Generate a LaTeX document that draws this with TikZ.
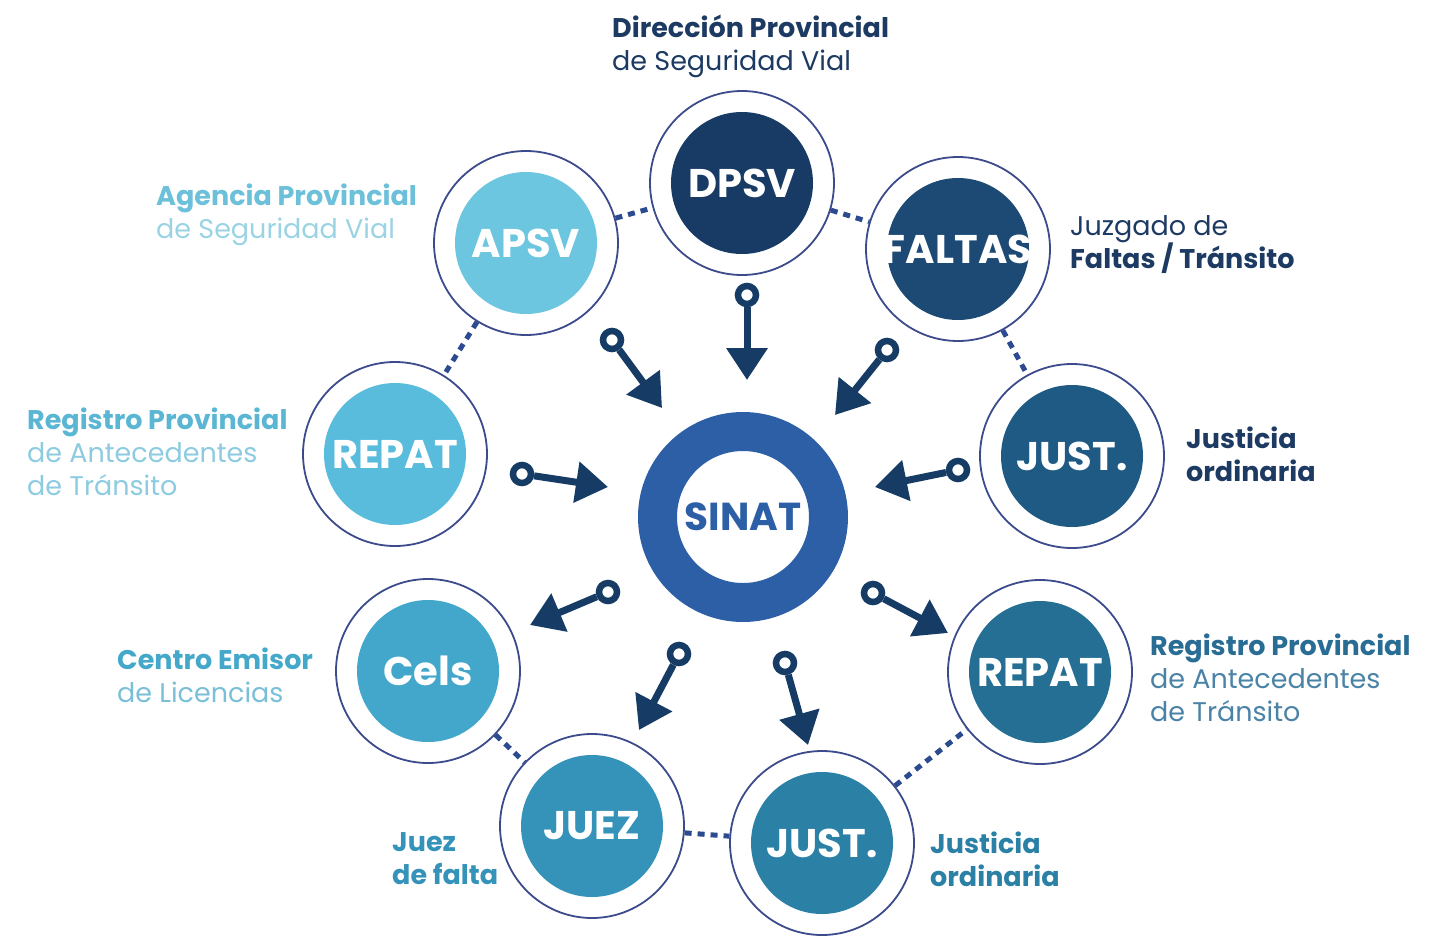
\documentclass[tikz,border=0pt]{standalone}
\usepackage{fontspec}
\setmainfont{Poppins}
\usetikzlibrary{arrows.meta}

% fills, darkest at the top, lightest at the left
\definecolor{dpsvc}{HTML}{173B64}
\definecolor{faltasc}{HTML}{1C4A75}
\definecolor{justac}{HTML}{1F5A85}
\definecolor{repatbc}{HTML}{256F95}
\definecolor{justbc}{HTML}{2B80A6}
\definecolor{juezc}{HTML}{3593BA}
\definecolor{celsc}{HTML}{42A7CA}
\definecolor{repatac}{HTML}{5ABCDC}
\definecolor{apsvc}{HTML}{6DC6E0}
\definecolor{sinatc}{HTML}{2C5FA6}
\definecolor{arrowc}{HTML}{163C66}
\definecolor{ringc}{HTML}{3C4B8C}
\definecolor{dotc}{HTML}{2B4A8F}
% text colours
\definecolor{navytxt}{HTML}{1D3A63}
\definecolor{repattxt}{HTML}{2A6D94}
\definecolor{repatlite}{HTML}{4A83A6}
\definecolor{celstxt}{HTML}{43A8C9}
\definecolor{celslite}{HTML}{79BFD8}
\definecolor{leftbold}{HTML}{5BB6D4}
\definecolor{leftlite}{HTML}{8CCBE0}
\definecolor{apsvtxt}{HTML}{6CC0DA}
\definecolor{apsvlite}{HTML}{9AD3E4}

\begin{document}
\begin{tikzpicture}[x=1pt,y=-1pt,
  sat/.style={circle, minimum size=184pt, inner sep=0pt, draw=ringc, line width=1.8pt,
    fill=white, text=white, font=\fontsize{40}{40}\selectfont\bfseries,
    path picture={\fill[#1] (path picture bounding box.center) circle (71pt);}},
  link/.style={draw=dotc, line width=5pt, dash pattern=on 7pt off 6pt},
  knob/.style={circle, draw=arrowc, line width=6.5pt, minimum size=18pt, inner sep=0pt},
  feed/.style={draw=arrowc, line width=7pt, -{Triangle[length=32pt,width=40pt]}},
  lbl/.style={anchor=base west, align=left, inner sep=0pt, font=\fontsize{27}{33}\selectfont}]
\useasboundingbox (0,0) rectangle (1443,935);

% centre ring
\fill[sinatc, even odd rule] (743,517) circle (105pt) circle (66pt);
\node[text=sinatc, font=\fontsize{39}{39}\selectfont\bfseries] (sinat) at (743,517) {SINAT};

% the nine offices round it
\node[sat=dpsvc] (dpsv) at (742,183) {DPSV};
\node[sat=faltasc] (faltas) at (958,249) {FALTAS};
\node[sat=justac] (justa) at (1072,456) {JUST.};
\node[sat=repatbc] (repatb) at (1040,672) {REPAT};
\node[sat=justbc] (justb) at (822,843) {JUST.};
\node[sat=juezc] (juez) at (592,826) {JUEZ};
\node[sat=celsc] (cels) at (428,671) {Cels};
\node[sat=repatac] (repata) at (395,454) {REPAT};
\node[sat=apsvc] (apsv) at (526,243) {APSV};

% dotted links on the rim
\draw[link] (apsv) -- (dpsv);
\draw[link] (dpsv) -- (faltas);
\draw[link] (faltas) -- (justa);
\draw[link] (apsv) -- (repata);
\draw[link] (cels) -- (juez);
\draw[link] (juez) -- (justb);
\draw[link] (justb) -- (repatb);

% data in and out of the centre
\foreach \n/\kx/\ky/\tx/\ty in {dp/747/295/747/380, ap/612/340/662/408,
    fa/887/350/835/415, ra/522/474/608/487, ja/958/470/875/487,
    ce/608/592/530/625, jz/679/654/639/730, jb/785/663/808/745,
    rb/873/593/948/633}{
  \node[knob] (k\n) at (\kx,\ky) {};
  \coordinate (t\n) at (\tx,\ty);
  \draw[feed] (k\n) -- (t\n);
}

% names beside the circles (anchored on the last line)
\node[lbl, text=navytxt] (ldpsv) at (612,70) {\textbf{Dirección Provincial}\\de Seguridad Vial};
\node[lbl, text=navytxt] (lfaltas) at (1070,268) {Juzgado de\\\textbf{Faltas / Tránsito}};
\node[lbl, text=navytxt] (ljusta) at (1186,481) {\textbf{Justicia}\\\textbf{ordinaria}};
\node[lbl, text=repattxt] (lrepatb) at (1150,721) {\textbf{Registro Provincial}\\\textcolor{repatlite}{de Antecedentes}\\\textcolor{repatlite}{de Tránsito}};
\node[lbl, text=justbc] (ljustb) at (930,886) {\textbf{Justicia}\\\textbf{ordinaria}};
\node[lbl, text=juezc] (ljuez) at (392,884) {\textbf{Juez}\\\textbf{de falta}};
\node[lbl, text=celstxt] (lcels) at (117,702) {\textbf{Centro Emisor}\\\textcolor{celslite}{de Licencias}};
\node[lbl, text=leftbold] (lrepata) at (27,495) {\textbf{Registro Provincial}\\\textcolor{leftlite}{de Antecedentes}\\\textcolor{leftlite}{de Tránsito}};
\node[lbl, text=apsvtxt] (lapsv) at (156,238) {\textbf{Agencia Provincial}\\\textcolor{apsvlite}{de Seguridad Vial}};
\end{tikzpicture}
\end{document}
